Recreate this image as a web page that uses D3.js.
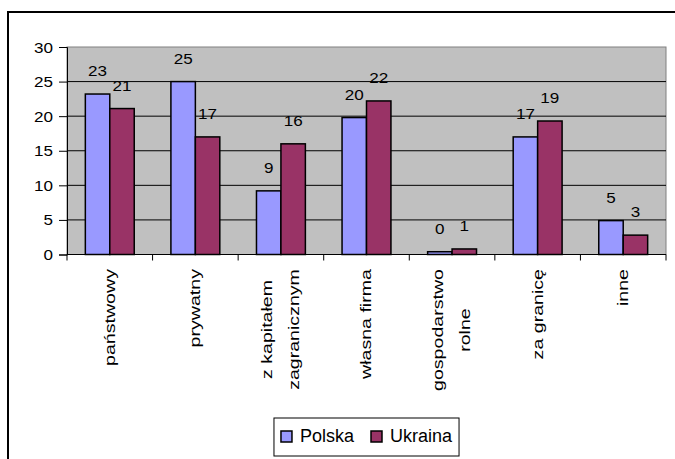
<!DOCTYPE html>
<html>
<head>
<meta charset="utf-8">
<script src="https://cdn.jsdelivr.net/npm/d3@7"></script>
<style>
  body { margin: 0; background: #fff; }
  svg { display: block; font-family: "Liberation Sans", Arial, sans-serif; }
</style>
</head>
<body>
<div id="chart"></div>
<script>
// Data
var categories = ['państwowy', 'prywatny', 'z kapitałem\nzagranicznym', 'własna firma', 'gospodarstwo\nrolne', 'za granicę', 'inne'];
var seriesNames = ['Polska', 'Ukraina'];
var polska = [23.2, 25.0, 9.2, 19.8, 0.4, 17.0, 4.9];
var ukraina = [21.1, 17.0, 16.0, 22.2, 0.8, 19.3, 2.8];
var yTicks = [0, 5, 10, 15, 20, 25, 30];
var colors = ['#9999FF', '#993366'];

var width = 675,
    height = 459,
    plot = { left: 67, right: 666, top: 47, bottom: 254.5 };

var svg = d3.select('#chart')
  .append('svg')
    .attr('width', width)
    .attr('height', height);

// Outer frame (runs off the right and bottom edges)
svg.append('rect')
  .attr('x', 8).attr('y', 12)
  .attr('width', 700).attr('height', 470)
  .attr('fill', 'none')
  .attr('stroke', '#000')
  .attr('stroke-width', 2);

var x = d3.scaleBand()
  .domain(d3.range(categories.length))
  .range([plot.left, plot.right]);

var x1 = d3.scaleBand()
  .domain(seriesNames)
  .range([0, x.bandwidth()])
  .paddingOuter(0.75);

var y = d3.scaleLinear()
  .domain([0, 30])
  .range([plot.bottom, plot.top]);

// Plot area background
svg.append('rect')
  .attr('x', plot.left).attr('y', plot.top)
  .attr('width', plot.right - plot.left)
  .attr('height', plot.bottom - plot.top)
  .attr('fill', '#C0C0C0')
  .attr('stroke', '#808080')
  .attr('stroke-width', 1);

// Gridlines
svg.selectAll('.grid')
  .data(yTicks.filter(function(d){ return d > 0 && d < 30; }))
  .enter()
    .append('line')
      .attr('x1', plot.left).attr('x2', plot.right)
      .attr('y1', function(d){ return y(d); })
      .attr('y2', function(d){ return y(d); })
      .attr('stroke', '#000')
      .attr('stroke-width', 1);

// Y axis
var yAxis = d3.axisLeft(y)
  .tickValues(yTicks)
  .tickSize(8)
  .tickPadding(6);

var yg = svg.append('g')
  .attr('transform', 'translate(' + plot.left + ',0)')
  .call(yAxis);
yg.select('.domain').attr('stroke', '#000');
yg.selectAll('.tick line').attr('stroke', '#000');
yg.selectAll('.tick text')
  .attr('font-size', 14)
  .attr('fill', '#000')
  .attr('x', null)
  .attr('dy', null)
  .attr('transform', 'translate(-14,5) scale(1.22,1)');

// Bars
var rows = categories.map(function(c, i){
  return [ { name : 'Polska', value : polska[i] }, { name : 'Ukraina', value : ukraina[i] } ];
});

var groups = svg.selectAll('.group')
  .data(rows)
  .enter()
    .append('g')
      .attr('transform', function(d, i){ return 'translate(' + x(i) + ',0)'; });

groups.selectAll('rect')
  .data(function(d){ return d; })
  .enter()
    .append('rect')
      .attr('x', function(d){ return x1(d.name); })
      .attr('y', function(d){ return y(d.value); })
      .attr('width', x1.bandwidth())
      .attr('height', function(d){ return y(0) - y(d.value); })
      .attr('fill', function(d, i){ return colors[i]; })
      .attr('stroke', '#000')
      .attr('stroke-width', 1.5);

// Value labels
groups.selectAll('.value')
  .data(function(d){ return d; })
  .enter()
    .append('text')
      .attr('text-anchor', 'middle')
      .attr('font-size', 14)
      .attr('transform', function(d){
        return 'translate(' + (x1(d.name) + x1.bandwidth() / 2) + ',' + (y(d.value) - 18) + ') scale(1.22,1)';
      })
      .text(function(d){ return Math.round(d.value); });

// X axis line and ticks
svg.append('line')
  .attr('x1', plot.left).attr('x2', plot.right)
  .attr('y1', plot.bottom).attr('y2', plot.bottom)
  .attr('stroke', '#000');

svg.selectAll('.xtick')
  .data(d3.range(categories.length + 1))
  .enter()
    .append('line')
      .attr('x1', function(d){ return plot.left + d * x.step(); })
      .attr('x2', function(d){ return plot.left + d * x.step(); })
      .attr('y1', plot.bottom)
      .attr('y2', plot.bottom + 6)
      .attr('stroke', '#000');

// Rotated category labels
var labelTop = 269,
    lineGap = 27,
    stretch = 1.4;

categories.forEach(function(c, i){
  var lines = c.split('\n'),
      cx = x(i) + x.bandwidth() / 2;
  var texts = lines.map(function(line, j){
    return svg.append('text')
      .attr('font-size', 14)
      .attr('text-anchor', 'middle')
      .attr('dy', '0.35em')
      .text(line);
  });
  var maxLen = d3.max(texts, function(t){ return t.node().getComputedTextLength(); }) * stretch;
  texts.forEach(function(t, j){
    var lx = cx + (j - (lines.length - 1) / 2) * lineGap;
    t.attr('transform', 'translate(' + lx + ',' + (labelTop + maxLen / 2) + ') rotate(-90) scale(' + stretch + ',1)');
  });
});

// Legend
var legend = svg.append('g');
var legendBox = legend.append('rect')
  .attr('fill', '#fff')
  .attr('stroke', '#000')
  .attr('stroke-width', 1);

var lx = 0;
var items = seriesNames.map(function(name, i){
  var g = legend.append('g');
  g.append('rect')
    .attr('x', 0).attr('y', -11)
    .attr('width', 11).attr('height', 11)
    .attr('fill', colors[i])
    .attr('stroke', '#000')
    .attr('stroke-width', 1.5);
  var t = g.append('text')
    .attr('x', 19).attr('y', 0)
    .attr('font-size', 18)
    .text(name);
  g.attr('transform', 'translate(' + lx + ',0)');
  lx += 19 + t.node().getComputedTextLength() + 17;
  return g;
});
var legendW = lx - 17 + 14;
var legendX = (plot.left + plot.right) / 2 - legendW / 2;
legendBox
  .attr('x', -7).attr('y', -24)
  .attr('width', legendW).attr('height', 38);
legend.attr('transform', 'translate(' + (legendX + 7) + ',442)');
</script>
</body>
</html>
